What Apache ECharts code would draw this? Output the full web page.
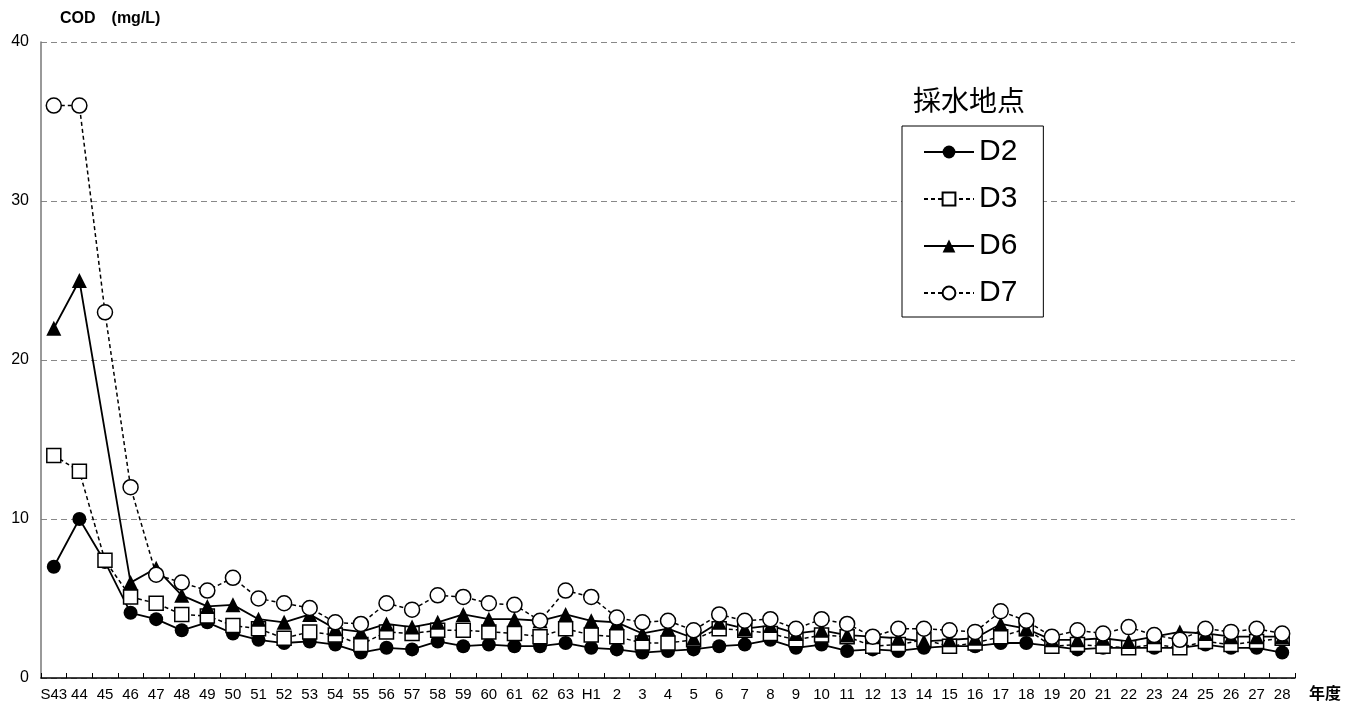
<!DOCTYPE html>
<html>
<head>
<meta charset="utf-8">
<script src="https://cdn.jsdelivr.net/npm/echarts@6/dist/echarts.min.js"></script>
<style>
  html, body { margin: 0; padding: 0; background: #fff; }
  #chart { width: 1365px; height: 713px; }
</style>
</head>
<body>
<div id="chart"></div>
<script>
// 年度 (昭和43年度〜平成28年度)
const years = ['S43','44','45','46','47','48','49','50','51','52','53','54','55','56','57','58','59','60','61','62','63',
  'H1','2','3','4','5','6','7','8','9','10','11','12','13','14','15','16','17','18','19','20','21','22','23','24','25','26','27','28'];

// COD (mg/L) by sampling point
const d2 = [7.0,10.0,7.3,4.1,3.7,3.0,3.5,2.8,2.4,2.2,2.3,2.1,1.6,1.9,1.8,2.3,2.0,2.1,2.0,2.0,2.2,
  1.9,1.8,1.6,1.7,1.8,2.0,2.1,2.4,1.9,2.1,1.7,1.8,1.7,1.9,2.0,2.0,2.2,2.2,2.0,1.8,1.9,1.9,1.9,1.9,2.1,1.9,1.9,1.6];
const d3 = [14.0,13.0,7.4,5.1,4.7,4.0,3.9,3.3,3.1,2.5,2.9,2.7,2.1,2.9,2.8,3.0,3.0,2.9,2.8,2.6,3.1,
  2.7,2.6,2.2,2.2,2.4,3.1,3.0,2.8,2.4,2.7,2.6,2.0,2.1,2.4,2.0,2.2,2.6,3.1,2.0,2.1,2.0,1.9,2.1,1.9,2.3,2.1,2.3,2.5];
const d6 = [22.0,25.0,null,6.0,6.9,5.2,4.5,4.6,3.7,3.5,4.0,3.1,2.9,3.4,3.2,3.5,4.0,3.7,3.7,3.6,4.0,
  3.6,3.5,2.8,3.1,2.5,3.5,3.1,3.3,2.8,3.0,2.7,2.6,2.5,2.3,2.4,2.5,3.4,3.1,2.4,2.4,2.5,2.3,2.6,2.9,2.8,2.6,2.6,2.6];
const d7 = [36.0,36.0,23.0,12.0,6.5,6.0,5.5,6.3,5.0,4.7,4.4,3.5,3.4,4.7,4.3,5.2,5.1,4.7,4.6,3.6,5.5,
  5.1,3.8,3.5,3.6,3.0,4.0,3.6,3.7,3.1,3.7,3.4,2.6,3.1,3.1,3.0,2.9,4.2,3.6,2.6,3.0,2.8,3.2,2.7,2.4,3.1,2.9,3.1,2.8];

const yTicks = { min: 0, max: 40, interval: 10 };

const chart = echarts.init(document.getElementById('chart'), null, { renderer: 'canvas' });

function lineSeries(name, data, symbol, filled, dashed, size) {
  return {
    name: name,
    type: 'line',
    data: data,
    connectNulls: true,
    symbol: symbol,
    symbolSize: size,
    showAllSymbol: true,
    animation: false,
    lineStyle: { color: '#000', width: dashed ? 1.5 : 1.8, type: dashed ? [4, 3] : 'solid' },
    itemStyle: { color: filled ? '#000' : '#fff', borderColor: '#000', borderWidth: filled ? 0 : 1.5 },
    emphasis: { disabled: true }
  };
}

chart.setOption({
  backgroundColor: '#fff',
  animation: false,
  textStyle: { fontFamily: 'Liberation Sans, Arial, sans-serif' },
  title: [
    { text: 'COD　(mg/L)', left: 55, top: 6,
      textStyle: { fontSize: 16, fontWeight: 'bold', color: '#000', fontFamily: 'Liberation Sans, Arial, sans-serif' } },
    { text: '採水地点', left: 908, top: 81,
      textStyle: { fontSize: 28, fontWeight: 'normal', color: '#000', fontFamily: 'Noto Sans CJK JP' } }
  ],
  grid: { left: 41, right: 70, top: 42, bottom: 35, containLabel: false },
  legend: {
    orient: 'vertical',
    left: 902, top: 126,
    padding: [11, 26, 9, 21],
    itemWidth: 50, itemHeight: 16, itemGap: 17,
    backgroundColor: '#fff',
    borderColor: '#000', borderWidth: 1,
    textStyle: { fontSize: 30, color: '#000', lineHeight: 30, fontFamily: 'Liberation Sans, Arial, sans-serif' },
    data: ['D2', 'D3', 'D6', 'D7']
  },
  xAxis: {
    type: 'category',
    data: years,
    boundaryGap: true,
    name: '年度',
    nameLocation: 'end',
    nameGap: 14,
    nameTextStyle: { fontSize: 16, fontWeight: 'bold', color: '#000', verticalAlign: 'top', padding: [7, 0, 0, 0], fontFamily: 'Noto Sans CJK JP' },
    axisLine: { lineStyle: { color: '#000', width: 1.5 } },
    axisTick: { show: true, inside: true, length: 5, alignWithLabel: false, lineStyle: { color: '#000' } },
    axisLabel: { interval: 0, fontSize: 15, color: '#000', margin: 9 },
    splitLine: { show: false }
  },
  yAxis: {
    type: 'value',
    min: yTicks.min, max: yTicks.max, interval: yTicks.interval,
    axisLine: { show: true, lineStyle: { color: '#777', width: 1.5 } },
    axisTick: { show: false },
    axisLabel: { fontSize: 16, color: '#000', margin: 12 },
    splitLine: { show: true, lineStyle: { color: '#888', type: [6, 4], width: 1 } }
  },
  series: [
    lineSeries('D2', d2, 'circle', true, false, 14),
    lineSeries('D3', d3, 'rect', false, true, 14),
    lineSeries('D6', d6, 'triangle', true, false, 15),
    lineSeries('D7', d7, 'circle', false, true, 15)
  ]
});
</script>
</body>
</html>
